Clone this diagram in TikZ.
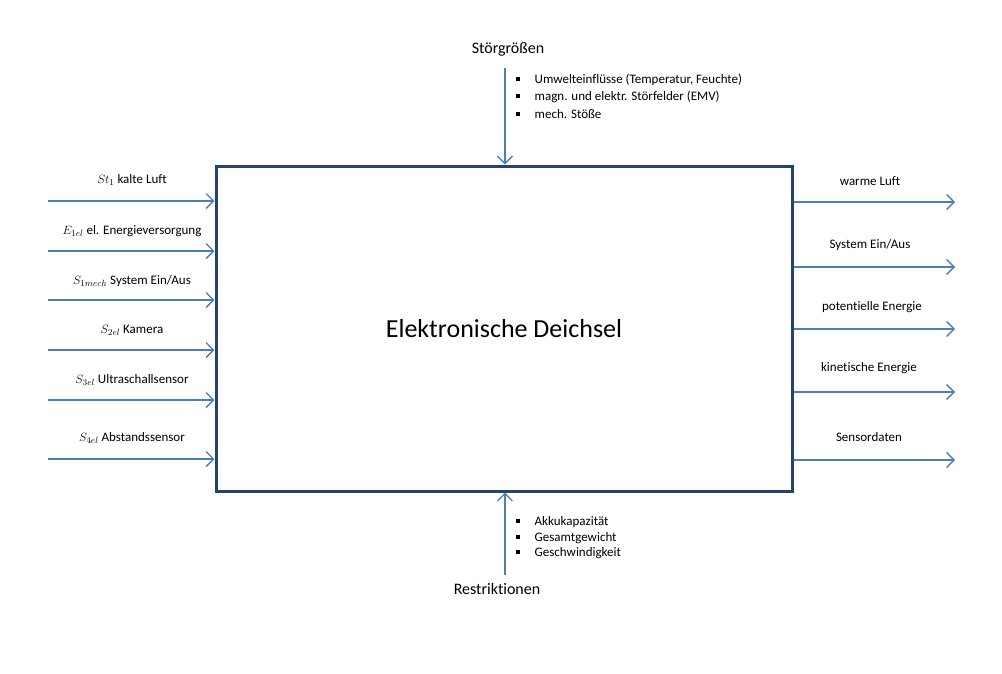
\documentclass[tikz,border=0pt]{standalone}
\usepackage{fontspec}
\setmainfont{Carlito}[Ligatures=NoCommon]
\usetikzlibrary{arrows.meta}
\definecolor{boxc}{HTML}{26436A}
\definecolor{arr}{HTML}{4F7DB5}
\newcommand\bulletsq{\rule[2.8pt]{4pt}{4pt}\hspace{14.5pt}}
\begin{document}
\begin{tikzpicture}[x=1pt,y=-1pt,
  flow/.style={draw=arr, line width=1.4pt, -{Straight Barb[length=7.5pt,width=15pt,line width=1.3pt]}},
  lab/.style={font=\fontsize{13}{15}\selectfont, inner sep=1pt},
  head/.style={font=\fontsize{16}{19}\selectfont, inner sep=1pt},
  item/.style={font=\fontsize{13}{15}\selectfont, inner sep=0pt, anchor=west}]
\useasboundingbox (0,0) rectangle (1002,673);
\node[draw=boxc, line width=3pt, minimum width=576pt, minimum height=325pt, inner sep=0pt,
  font=\fontsize{26}{30}\selectfont] (box) at (504,328.5) {Elektronische Deichsel};

% left inputs
\coordinate (l1) at (48,201);
\coordinate (l2) at (48,251);
\coordinate (l3) at (48,300);
\coordinate (l4) at (48,350);
\coordinate (l5) at (48,400);
\coordinate (l6) at (48,459);
\foreach \c in {l1,l2,l3,l4,l5,l6} \draw[flow] (\c) -- (\c -| box.west);
\node[lab] (tl1) at (132,180) {$St_1$ kalte Luft};
\node[lab] (tl2) at (132,231) {$E_{1el}$ el. Energieversorgung};
\node[lab] (tl3) at (132,281) {$S_{1mech}$ System Ein/Aus};
\node[lab] (tl4) at (132,330) {$S_{2el}$ Kamera};
\node[lab] (tl5) at (132,380) {$S_{3el}$ Ultraschallsensor};
\node[lab] (tl6) at (132,438) {$S_{4el}$ Abstandssensor};

% right outputs
\coordinate (r1) at (955,202);
\coordinate (r2) at (955,267);
\coordinate (r3) at (955,329);
\coordinate (r4) at (955,392);
\coordinate (r5) at (955,460);
\foreach \c in {r1,r2,r3,r4,r5} \draw[flow] (\c -| box.east) -- (\c);
\node[lab] (tr1) at (870,181) {warme Luft};
\node[lab] (tr2) at (870,245) {System Ein/Aus};
\node[lab] (tr3) at (872,307) {potentielle Energie};
\node[lab] (tr4) at (869,368) {kinetische Energie};
\node[lab] (tr5) at (869,437) {Sensordaten};

% top
\node[head] (sg) at (508,49) {Störgrößen};
\coordinate (top) at (505,68);
\draw[flow] (top) -- (top |- box.north);
\node[item] (d1) at (516,80) {\bulletsq Umwelteinflüsse (Temperatur, Feuchte)};
\node[item] (d2) at (516,97) {\bulletsq magn. und elektr. Störfelder (EMV)};
\node[item] (d3) at (516,114) {\bulletsq mech. Stöße};

% bottom
\node[head] (rs) at (497,589) {Restriktionen};
\coordinate (bot) at (505,575);
\draw[flow] (bot) -- (bot |- box.south);
\node[item] (b1) at (516,522) {\bulletsq Akkukapazität};
\node[item] (b2) at (516,538) {\bulletsq Gesamtgewicht};
\node[item] (b3) at (516,553) {\bulletsq Geschwindigkeit};
\end{tikzpicture}
\end{document}
